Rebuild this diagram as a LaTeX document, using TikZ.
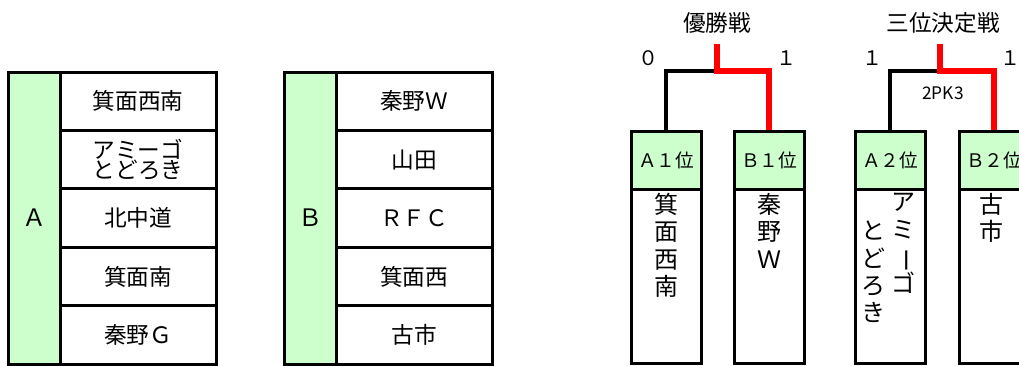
\documentclass[tikz,border=0pt]{standalone}
\usepackage{fontspec}
\setmainfont{Noto Sans CJK JP}
\definecolor{lgreen}{HTML}{CCFFCC}
\definecolor{winred}{HTML}{FF0000}
\tikzset{
  grp/.style={draw, line width=2.25pt, fill=lgreen, minimum width=39pt, minimum height=219pt, inner sep=0pt, font=\fontsize{18}{18}\selectfont},
  cell/.style={draw, line width=2.25pt, fill=white, minimum width=117pt, minimum height=43.8pt, inner sep=0pt, align=center, font=\fontsize{17}{15.5}\selectfont},
  head/.style={draw, line width=2.25pt, fill=lgreen, minimum width=52.5pt, minimum height=43.5pt, inner sep=0pt, font=\fontsize{14}{14}\selectfont},
  body/.style={draw, line width=2.25pt, fill=white, minimum width=52.5pt, minimum height=130.5pt, inner sep=0pt},
  vtext/.style={anchor=north, inner sep=0pt, align=center, font=\fontsize{18}{20.5}\selectfont},
  score/.style={inner sep=0pt, font=\fontsize{15}{15}\selectfont},
  pkscore/.style={inner sep=0pt, font=\fontsize{13}{13}\selectfont},
  title/.style={inner sep=0pt, font=\fontsize{17}{17}\selectfont},
  lose/.style={line width=2.4pt},
  win/.style={line width=4.5pt, draw=winred}
}
\newcommand{\vbar}{\rotatebox[origin=c]{-90}{ー}}
\begin{document}
\begin{tikzpicture}[x=0.75pt, y=-0.75pt]
\useasboundingbox (0,0) rectangle (1019,365);
\clip (0,0) rectangle (1019,365);

% group A
\node[grp] (grpA) at (34,218) {Ａ};
\node[cell] (a1) at (138,101.2) {箕面西南};
\node[cell] (a2) at (138,159.6) {アミーゴ\\とどろき};
\node[cell] (a3) at (138,218) {北中道};
\node[cell] (a4) at (138,276.4) {箕面南};
\node[cell] (a5) at (138,334.8) {秦野Ｇ};

% group B
\node[grp] (grpB) at (310,218) {Ｂ};
\node[cell] (b1) at (414,101.2) {秦野Ｗ};
\node[cell] (b2) at (414,159.6) {山田};
\node[cell] (b3) at (414,218) {ＲＦＣ};
\node[cell] (b4) at (414,276.4) {箕面西};
\node[cell] (b5) at (414,334.8) {古市};

% final
\node[body] (bodyA1) at (666,276) {};
\node[head] (headA1) at (666,160) {Ａ１位};
\node[body] (bodyB1) at (769,276) {};
\node[head] (headB1) at (769,160) {Ｂ１位};
\node[vtext] (nameA1) at (666,193) {箕\\面\\西\\南};
\node[vtext] (nameB1) at (769,193) {秦\\野\\Ｗ};
\node[title] (final) at (717,23) {優勝戦};
\node[score] (scA1) at (648,58) {０};
\node[score] (scB1) at (786,58) {１};
\coordinate (topF) at (717,44);
\coordinate (midF) at (717,71);
\draw[lose] (headA1.north) |- (midF);
\draw[win] (topF) -- (midF) -| (headB1.north);

% third place
\node[body] (bodyA2) at (890,276) {};
\node[head] (headA2) at (890,160) {Ａ２位};
\node[body] (bodyB2) at (994,276) {};
\node[head] (headB2) at (994,160) {Ｂ２位};
\node[vtext] (nameA2r) at (903,193) {ア\\ミ\\\vbar\\ゴ};
\node[vtext] (nameA2l) at (873,221) {と\\ど\\ろ\\き};
\node[vtext] (nameB2) at (991,193) {古\\市};
\node[title] (third) at (943,23) {三位決定戦};
\node[score] (scA2) at (872,58) {１};
\node[score] (scB2) at (1010,58) {１};
\node[pkscore] (pk) at (943,93) {2PK3};
\coordinate (topT) at (940,44);
\coordinate (midT) at (940,71);
\draw[lose] (headA2.north) |- (midT);
\draw[win] (topT) -- (midT) -| (headB2.north);
\end{tikzpicture}
\end{document}
